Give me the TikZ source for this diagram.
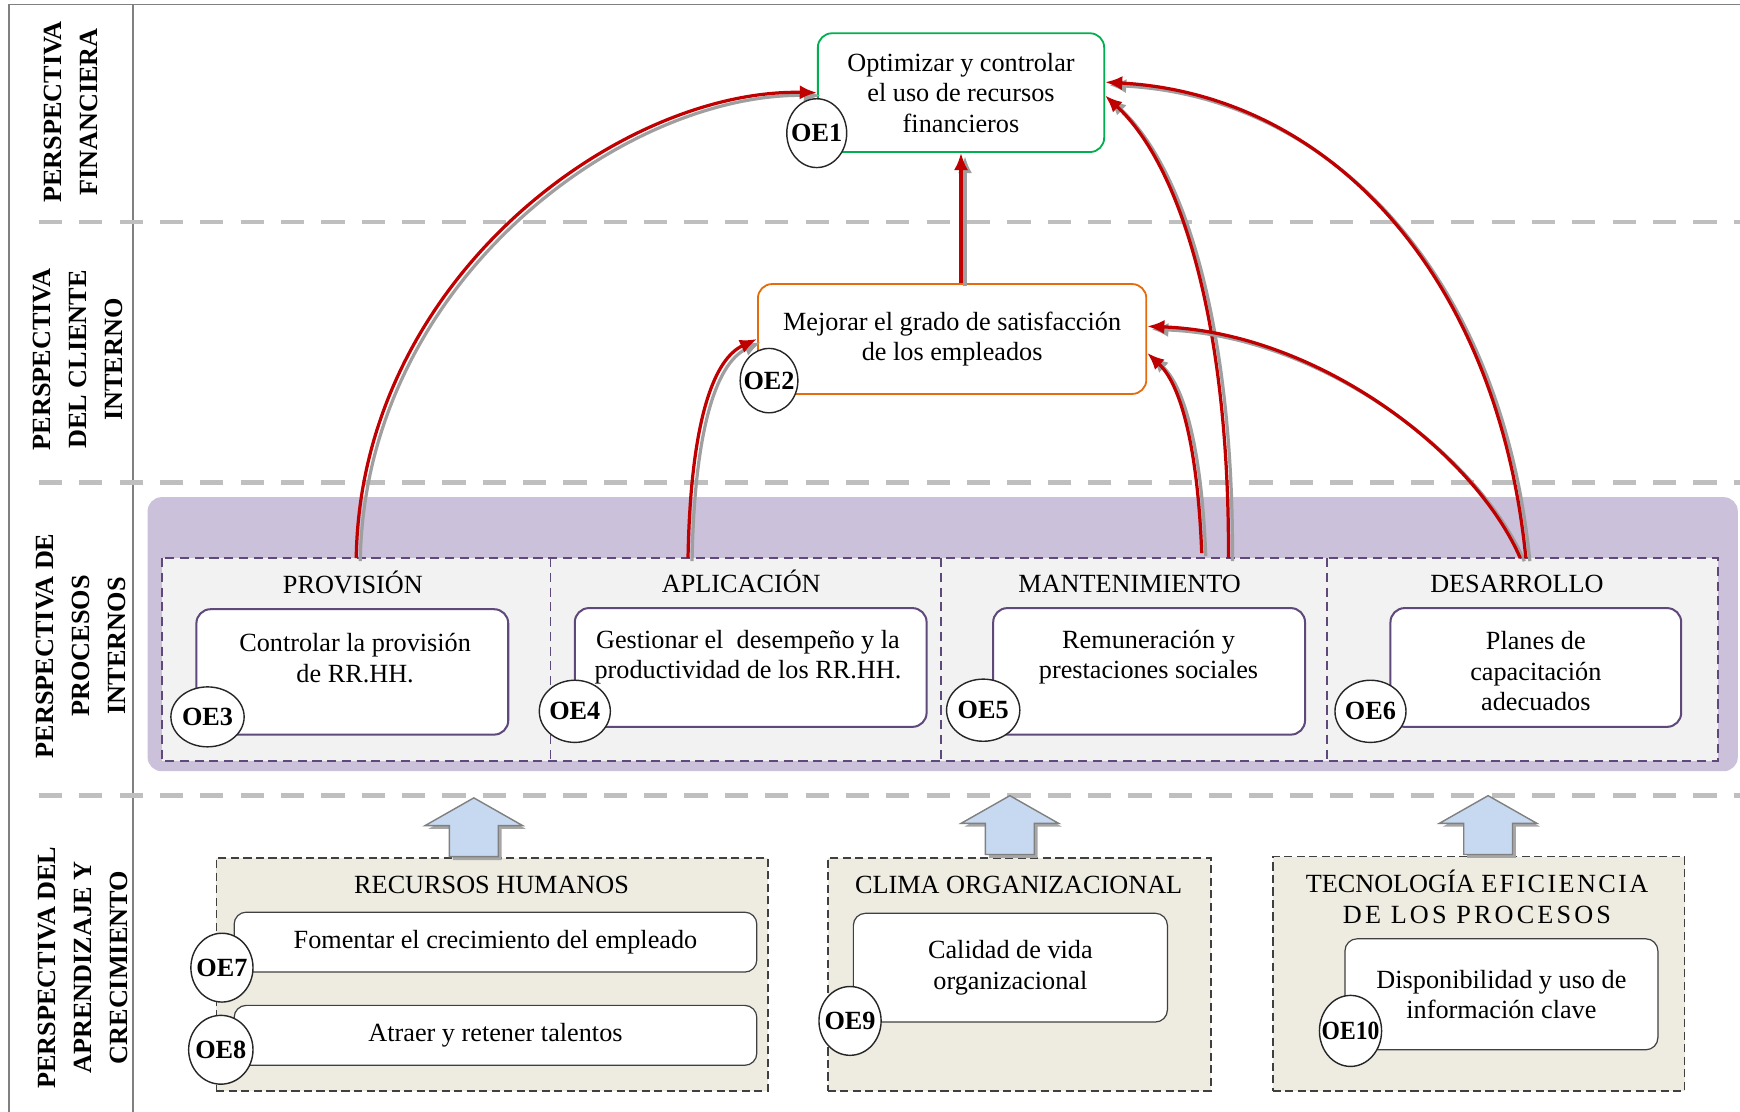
\documentclass[tikz,border=0pt]{standalone}
\usepackage{fontspec}
\setmainfont{Liberation Serif}
\usetikzlibrary{shapes.geometric,arrows.meta}
\definecolor{framegray}{HTML}{808080}
\definecolor{sepgray}{HTML}{BFBFBF}
\definecolor{finegreen}{HTML}{00B050}
\definecolor{clientorange}{HTML}{E46C0A}
\definecolor{causered}{HTML}{C00000}
\definecolor{procpurple}{HTML}{5F497A}
\definecolor{bandlilac}{HTML}{CCC1DA}
\definecolor{cellgray}{HTML}{F2F2F2}
\definecolor{learnbeige}{HTML}{EEECE1}
\definecolor{learnedge}{HTML}{404040}
\definecolor{pushblue}{HTML}{C6D9F1}
\begin{document}
\begin{tikzpicture}[x=0.55pt,y=-0.55pt,
  every node/.style={font=\fontsize{13}{15.1}\selectfont},
  boxsize/.style 2 args={minimum width=#1*0.55pt,minimum height=#2*0.55pt},
  frameline/.style={draw=framegray,line width=0.8pt},
  sepline/.style={draw=sepgray,line width=2.2pt,dash pattern=on 11.5pt off 8.5pt},
  persp/.style={rotate=90,align=center,inner sep=0pt,font=\bfseries\fontsize{13}{17.9}\selectfont},
  goal/.style={draw,fill=white,rounded corners=7pt,line width=0.9pt,inner sep=0pt,align=center},
  cell/.style={fill=cellgray,inner sep=0pt,outer sep=0pt},
  celledge/.style={draw=procpurple,line width=0.8pt,dash pattern=on 4.5pt off 2.8pt},
  procgoal/.style={goal,draw=procpurple,line width=1pt},
  learnframe/.style={draw=learnedge,fill=learnbeige,line width=0.8pt,dash pattern=on 4pt off 2.2pt,inner sep=0pt},
  learngoal/.style={goal,draw=learnedge,line width=0.6pt,rounded corners=6pt},
  oe/.style={ellipse,draw=black!85,fill=white,line width=0.7pt,inner sep=0pt,font=\bfseries\fontsize{13}{15}\selectfont},
  txt/.style={align=center,inner sep=0pt},
  head/.style={inner sep=0pt,anchor=base},
  causal/.style={draw=causered,line width=1.6pt,-{Latex[length=8.5pt,width=7pt]},
    preaction={draw=gray!75,line width=1.6pt,-{Latex[length=8.5pt,width=7pt]},
      transform canvas={shift={(2pt,-1.5pt)}}}},
  pushup/.pic={
    \fill[gray!70] (3,3) -- (47,28) -- (25,28) -- (25,56) -- (-19,56) -- (-19,28) -- (-41,28) -- cycle;
    \draw[draw=framegray,fill=pushblue,line width=0.7pt] (0,0) -- (44,25) -- (22,25) -- (22,53) -- (-22,53) -- (-22,25) -- (-44,25) -- cycle;
  }]
\useasboundingbox (0,0) rectangle (1568,1002);

% table frame and perspective separators
\draw[frameline] (8,1002) -- (8,4) -- (1568,4);
\draw[frameline] (120,4) -- (120,1002);
\draw[sepline] (35,200) -- (1568,200);
\draw[sepline] (35,435) -- (1568,435);
\draw[sepline] (35,717) -- (1568,717);

% perspective titles
\node[persp] (pf) at (64,101) {PERSPECTIVA\\FINANCIERA};
\node[persp] (pc) at (70,324) {PERSPECTIVA\\DEL CLIENTE\\INTERNO};
\node[persp] (pp) at (73,582) {PERSPECTIVA DE\\PROCESOS\\INTERNOS};
\node[persp] (pa) at (75,872) {PERSPECTIVA DEL\\APRENDIZAJE Y\\CRECIMIENTO};

% financial and internal-client goals
\node[goal,draw=finegreen,boxsize={258}{107}] (oe1box) at (866,83.5) {Optimizar y controlar\\el uso de recursos\\financieros};
\node[goal,draw=clientorange,boxsize={350}{99}] (oe2box) at (858,305.5) {Mejorar el grado de satisfacción\\de los empleados};

% internal processes
\fill[bandlilac,rounded corners=7pt] (133,448) rectangle (1566,695);
\node[cell,boxsize={350}{183}] (col1) at (321,594.5) {};
\node[cell,boxsize={352}{183}] (col2) at (672,594.5) {};
\node[cell,boxsize={348}{183}] (col3) at (1022,594.5) {};
\node[cell,boxsize={352}{183}] (col4) at (1372,594.5) {};
\draw[celledge] (col1.north west) rectangle (col4.south east);
\draw[celledge] (col1.north east) -- (col1.south east);
\draw[celledge] (col2.north east) -- (col2.south east);
\draw[celledge] (col3.north east) -- (col3.south east);
\node[head] (h1) at (318,535) {PROVISIÓN};
\node[head] (h2) at (668,534) {APLICACIÓN};
\node[head] (h3) at (1018,534) {MANTENIMIENTO};
\node[head] (h4) at (1367,534) {DESARROLLO};
\node[procgoal,boxsize={281}{113}] (b3) at (317.5,605.5) {};
\node[procgoal,boxsize={317}{107}] (b4) at (676.5,601.5) {};
\node[procgoal,boxsize={281}{114}] (b5) at (1035.5,605) {};
\node[procgoal,boxsize={262}{107}] (b6) at (1384,601.5) {};
\node[txt] (t3) at (320,593) {Controlar la provisión\\de RR.HH.};
\node[txt] (t4) at (674,592) {Gestionar el\ \ desempeño y la\\productividad de los RR.HH.};
\node[txt] (t5) at (1035,592) {Remuneración y\\prestaciones sociales};
\node[txt] (t6) at (1384,605) {Planes de\\capacitación\\adecuados};

% learning and growth
\node[learnframe,boxsize={497}{210}] (rh) at (443.5,878) {};
\node[head] (hrh) at (443,805) {RECURSOS HUMANOS};
\node[learngoal,boxsize={471}{54}] (b7) at (446.5,849) {Fomentar el crecimiento del empleado};
\node[learngoal,boxsize={471}{54}] (b8) at (446.5,933) {Atraer y retener talentos};
\node[learnframe,boxsize={345}{210}] (clima) at (918.5,878) {};
\node[head] (hclima) at (918,805) {CLIMA ORGANIZACIONAL};
\node[learngoal,boxsize={283}{98}] (b9) at (910.5,872) {Calidad de vida\\organizacional};
\node[learnframe,boxsize={371}{211}] (tec) at (1332.5,877.5) {};
\node[txt] (htec) at (1331,808) {TECNOLOGÍA {\addfontfeature{LetterSpace=9}EFICIENCIA}\\{\addfontfeature{LetterSpace=12}DE LOS PROCESOS}};
\node[learngoal,boxsize={282}{100}] (b10) at (1353,896) {Disponibilidad y uso de\\información clave};

% upward block arrows
\pic at (427,719) {pushup};
\pic at (910,717) {pushup};
\pic at (1341,717) {pushup};

% cause-effect links
\draw[causal] (col1.north) .. controls (325,250) and (560,80) .. (oe1box.west);
\draw[causal] (oe1box.south |- oe2box.north) -- (oe1box.south);
\draw[causal] ([xshift=-28.6pt]col2.north) .. controls (622,390) and (640,325) .. (oe2box.west);
\draw[causal] ([shift={(33.5pt,2.5pt)}]col3.north) .. controls (1080,420) and (1068,350) .. ([yshift=-6.9pt]oe2box.east);
\draw[causal] ([xshift=46.75pt]col3.north) .. controls (1108,295) and (1065,150) .. ([yshift=-1.4pt]oe1box.east);
\draw[causal] ([xshift=-1.1pt]col4.north) .. controls (1330,410) and (1190,300) .. ([yshift=6.3pt]oe2box.east);
\draw[causal] ([xshift=1.65pt]col4.north) .. controls (1350,250) and (1200,85) .. ([yshift=5.2pt]oe1box.east);

% objective badges
\node[oe,boxsize={54}{62}] (oe1) at (736,120) {\makebox[0pt]{OE1}};
\node[oe,boxsize={52}{58}] (oe2) at (693,343) {\makebox[0pt]{OE2}};
\node[oe,boxsize={66}{54}] (oe3) at (187,646) {\makebox[0pt]{OE3}};
\node[oe,boxsize={64}{56}] (oe4) at (518,641) {\makebox[0pt]{OE4}};
\node[oe,boxsize={66}{56}] (oe5) at (886,640) {\makebox[0pt]{OE5}};
\node[oe,boxsize={64}{56}] (oe6) at (1235,641) {\makebox[0pt]{OE6}};
\node[oe,boxsize={56}{62}] (oe7) at (200,872) {\makebox[0pt]{OE7}};
\node[oe,boxsize={58}{62}] (oe8) at (199,946) {\makebox[0pt]{OE8}};
\node[oe,boxsize={56}{62}] (oe9) at (766,920) {\makebox[0pt]{OE9}};
\node[oe,boxsize={56}{64}] (oe10) at (1217,929) {\makebox[0pt]{\scalebox{0.9}[1]{OE10}}};
\end{tikzpicture}
\end{document}
